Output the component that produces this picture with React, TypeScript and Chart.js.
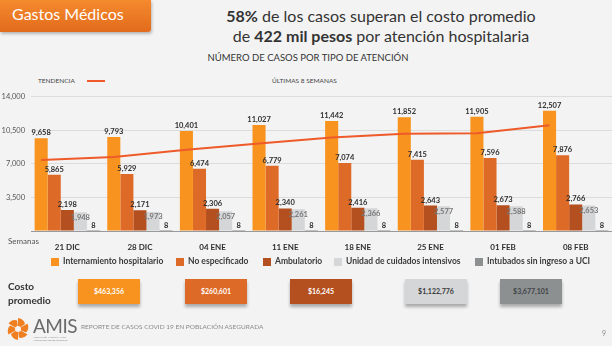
import React, { useEffect, useRef } from 'react';
import { Chart, registerables } from 'chart.js';
Chart.register(...registerables);

const weeks = ['21 DIC', '28 DIC', '04 ENE', '11 ENE', '18 ENE', '25 ENE', '01 FEB', '08 FEB'];
const internamiento = [9658, 9793, 10401, 11027, 11442, 11852, 11905, 12507];
const noEspecificado = [5865, 5929, 6474, 6779, 7074, 7415, 7596, 7876];
const ambulatorio = [2198, 2171, 2306, 2340, 2416, 2643, 2673, 2766];
const uci = [1948, 1973, 2057, 2261, 2366, 2577, 2588, 2653];
const intubados = [8, 8, 8, 8, 8, 8, 8, 8];
const tendencia = [7250, 7550, 8300, 8950, 9550, 9950, 10000, 10800];
const seriesNames = ['Internamiento hospitalario', 'No especificado', 'Ambulatorio', 'Unidad de cuidados intensivos', 'Intubados sin ingreso a UCI'];
const seriesColors = ['#F7931E', '#DE6A27', '#B4501F', '#D4D6D8', '#8D9091'];
const costos = ['$463,356', '$260,601', '$16,245', '$1,122,776', '$3,677,101'];
const yTicks = [3500, 7000, 10500, 14000];

const FONT = 'Lato, "Open Sans", sans-serif';
const Y_MAX = 14000;

const valueLabels = {
  id: 'valueLabels',
  afterDatasetsDraw(chart: any) {
    const ctx = chart.ctx;
    chart.data.datasets.forEach((ds: any, k: number) => {
      const meta = chart.getDatasetMeta(k);
      meta.data.forEach((el: any, i: number) => {
        const txt = Number(ds.data[i]).toLocaleString('en-US');
        ctx.save();
        ctx.font = 'bold 7.5px ' + FONT;
        ctx.fillStyle = k === 3 ? '#777' : '#2f2f2f';
        ctx.textAlign = 'center';
        ctx.textBaseline = 'middle';
        ctx.fillText(txt, el.x, k === 3 ? el.y + 5 : el.y - 5.5);
        ctx.restore();
      });
    });
  },
};

function BarChart() {
  const ref = useRef<HTMLCanvasElement>(null);
  useEffect(() => {
    if (!ref.current) return;
    const barData = [internamiento, noEspecificado, ambulatorio, uci, intubados];
    const chart = new Chart(ref.current, {
      type: 'bar',
      data: {
        labels: weeks,
        datasets: barData.map((d, k) => ({
          label: seriesNames[k],
          data: d,
          backgroundColor: seriesColors[k],
          barPercentage: 1,
          categoryPercentage: 0.9,
        })),
      },
      options: {
        animation: false,
        responsive: false,
        maintainAspectRatio: false,
        layout: { padding: { top: 8, left: 0, right: 0, bottom: 0 } },
        plugins: { legend: { display: false }, tooltip: { enabled: false } },
        scales: {
          x: {
            grid: { display: false },
            border: { display: true, color: '#9a9a9a', width: 1 },
            ticks: { color: '#2f2f2f', font: { family: FONT, size: 8, weight: 'bold' }, padding: 4, maxRotation: 0 },
            afterFit: (s: any) => { s.height = 19; },
          },
          y: {
            min: 0,
            max: Y_MAX,
            afterBuildTicks: (s: any) => { s.ticks = [0, ...yTicks].map((v) => ({ value: v })); },
            grid: { color: '#dcdcdc', lineWidth: 1, drawTicks: false },
            border: { display: false },
            ticks: {
              color: '#555',
              font: { family: FONT, size: 7.5 },
              padding: 6,
              callback: (v: any) => (v === 0 ? '' : Number(v).toLocaleString('en-US')),
            },
            afterFit: (s: any) => { s.width = 31; },
          },
        },
      } as any,
      plugins: [valueLabels],
    });
    return () => chart.destroy();
  }, []);
  return <canvas ref={ref} width={612} height={164} style={{ position: 'absolute', left: 0, top: 86, width: 612, height: 164 }} />;
}

function TrendLine() {
  const ref = useRef<HTMLCanvasElement>(null);
  useEffect(() => {
    if (!ref.current) return;
    const chart = new Chart(ref.current, {
      type: 'line',
      data: {
        datasets: [
          {
            label: 'Tendencia',
            data: tendencia.map((v, i) => ({ x: i - 0.36, y: v })),
            borderColor: '#EE5A29',
            borderWidth: 2,
            pointRadius: 0,
            tension: 0,
          },
        ],
      },
      options: {
        animation: false,
        responsive: false,
        maintainAspectRatio: false,
        layout: { padding: { top: 8, left: 31, right: 0, bottom: 19 } },
        plugins: { legend: { display: false }, tooltip: { enabled: false } },
        scales: {
          x: { type: 'linear', display: false, min: -0.5, max: weeks.length - 0.5 },
          y: { type: 'linear', display: false, min: 0, max: Y_MAX },
        },
      } as any,
    });
    return () => chart.destroy();
  }, []);
  return <canvas ref={ref} width={612} height={164} style={{ position: 'absolute', left: 0, top: 86, width: 612, height: 164 }} />;
}

const abs = (o: any) => ({ position: 'absolute' as const, ...o });

export default function App() {
  useEffect(() => {
    document.body.style.margin = '0';
  }, []);
  const legendX = [51, 176, 263, 334, 475];
  const boxX = [78, 185, 290, 405, 500];
  const boxText = ['#fff', '#fff', '#fff', '#3a3a3a', '#3f4446'];
  return (
    <div style={abs({ left: 0, top: 0, width: 612, height: 346, background: '#F3F3F3', fontFamily: FONT, overflow: 'hidden' })}>
      <div style={abs({ left: 0, top: 0, width: 151, height: 32, background: 'linear-gradient(#F58A2E, #E26B1C)', borderBottomRightRadius: 3, boxShadow: '1px 2px 3px rgba(0,0,0,0.25)' })} />
      <div style={abs({ left: 12, top: 4, color: '#fff', fontSize: 16, lineHeight: '20px' })}>Gastos Médicos</div>
      <div style={abs({ left: 181, top: 6, width: 400, textAlign: 'center', color: '#333', fontSize: 16, lineHeight: '20px' })}>
        <b>58%</b> de los casos superan el costo promedio
        <br />
        de <b>422 mil pesos</b> por atención hospitalaria
      </div>
      <div style={abs({ left: 158, top: 52, width: 300, textAlign: 'center', color: '#333', fontSize: 9.5, lineHeight: '12px' })}>NÚMERO DE CASOS POR TIPO DE ATENCIÓN</div>
      <div style={abs({ left: 38, top: 77, color: '#444', fontSize: 6.5, lineHeight: '8px' })}>TENDENCIA</div>
      <div style={abs({ left: 87, top: 80, width: 18, height: 2, background: '#EE5A29' })} />
      <div style={abs({ left: 272, top: 77, color: '#444', fontSize: 6.5, lineHeight: '8px' })}>ÚLTIMAS 8 SEMANAS</div>
      <BarChart />
      <TrendLine />
      <div style={abs({ left: 8, top: 236, color: '#555', fontSize: 8, lineHeight: '10px' })}>Semanas</div>
      {seriesNames.map((n, i) => (
        <React.Fragment key={n}>
          <div style={abs({ left: legendX[i], top: 258, width: 8, height: 8, background: seriesColors[i] })} />
          <div style={abs({ left: legendX[i] + 12, top: 256, color: '#3a3a3a', fontSize: 8.5, fontWeight: 'bold', lineHeight: '11px', whiteSpace: 'nowrap' })}>{n}</div>
        </React.Fragment>
      ))}
      <div style={abs({ left: 8, top: 279, color: '#333', fontSize: 10, fontWeight: 'bold', lineHeight: '14px' })}>
        Costo
        <br />
        promedio
      </div>
      {costos.map((c, i) => (
        <div key={c} style={abs({ left: boxX[i], top: 279, width: 62, height: 25, background: seriesColors[i], color: boxText[i], fontSize: 7, fontWeight: 'bold', lineHeight: '25px', textAlign: 'center', boxShadow: '0 3px 3px rgba(0,0,0,0.3)' })}>{c}</div>
      ))}
      <svg style={abs({ left: 5, top: 316 })} width={26} height={26} viewBox="0 0 26 26">
        {[0, 60, 120, 180, 240, 300].map((a) => (
          <path key={a} d="M13 13 L13 2 Q19 3 20 8 Z" fill="#F07F22" transform={`rotate(${a} 13 13)`} />
        ))}
        <circle cx={13} cy={13} r={3} fill="#F3F3F3" />
      </svg>
      <div style={abs({ left: 33, top: 316, color: '#6a6a6a', fontSize: 19, lineHeight: '20px', letterSpacing: -0.5 })}>AMIS</div>
      <div style={abs({ left: 33, top: 336, color: '#888', fontSize: 2.5, lineHeight: '3px', width: 40 })}>ASOCIACIÓN MEXICANA DE INSTITUCIONES DE SEGUROS</div>
      <div style={abs({ left: 81, top: 323, color: '#8a8a8a', fontSize: 6.5, lineHeight: '8px' })}>REPORTE DE CASOS COVID 19 EN POBLACIÓN ASEGURADA</div>
      <div style={abs({ left: 602, top: 329, color: '#8a8a8a', fontSize: 7, lineHeight: '8px' })}>9</div>
    </div>
  );
}
